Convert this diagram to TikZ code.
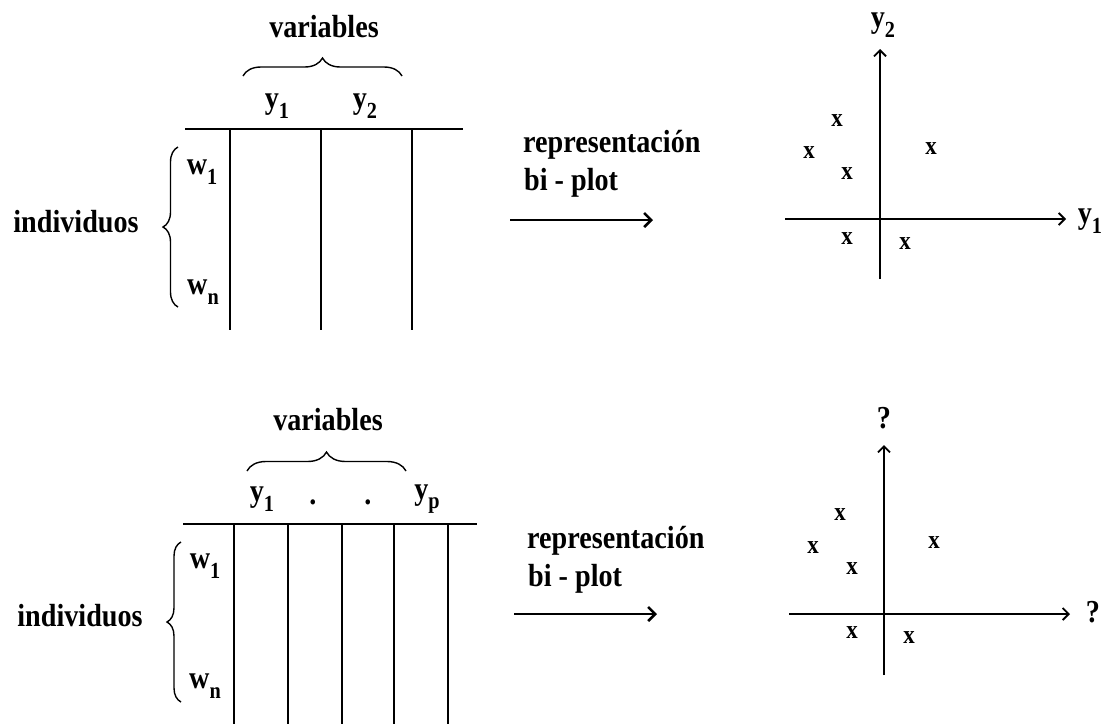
\documentclass[tikz,border=0pt]{standalone}
\usepackage{fontspec}
\setmainfont{Liberation Serif}[FakeStretch=0.88]
\usetikzlibrary{arrows.meta,decorations.pathreplacing}
\newcommand{\sbs}[1]{\raisebox{-0.3em}{\fontsize{23}{23}\selectfont #1}}
\begin{document}
\begin{tikzpicture}[x=1pt,y=-1pt,
  lbl/.style={font=\fontsize{32}{34}\selectfont\bfseries, inner sep=0pt},
  mk/.style={font=\fontsize{26}{26}\selectfont\bfseries, inner sep=0pt},
  tline/.style={line width=1.8pt},
  bracepath/.style={line width=1.4pt, decorate, decoration={brace, amplitude=#1}},
  bigarrow/.style={line width=2.6pt, -{Straight Barb[length=7pt,width=14pt]}},
  axis/.style={line width=1.8pt, -{Straight Barb[length=6pt,width=12pt]}}]
\useasboundingbox (0,0) rectangle (1109,724);

% ---------------- top diagram ----------------
\node[lbl] (var1) at (324,27) {variables};
\draw[bracepath=18] (243,76) -- (402,76);
\node[lbl] (ya1) at (277,106) {y\sbs{1}};
\node[lbl] (ya2) at (365,106) {y\sbs{2}};
\draw[tline] (185,129) -- (463,129);
\foreach \xx in {230,321,412} \draw[tline] (\xx,129) -- (\xx,330);
\draw[bracepath=15] (178,307) -- (178,147);
\node[lbl] (ind1) at (76,222) {individuos};
\node[lbl] (wa1) at (202,172) {w\sbs{1}};
\node[lbl] (wan) at (203,292) {w\sbs{n}};

\node[lbl, anchor=base west] (rep1) at (523,152) {representación};
\node[lbl, anchor=base west] (bip1) at (524,190) {bi - plot};
\coordinate (arA1) at (510,220);
\coordinate (arB1) at (653,220);
\draw[bigarrow] (arA1) -- (arB1);

\coordinate (o1) at (880,219);
\coordinate (vT1) at (880,49);
\coordinate (vB1) at (880,279);
\coordinate (hL1) at (785,219);
\coordinate (hR1) at (1066,219);
\draw[tline] (vB1) -- (o1);
\draw[axis] (o1) -- (vT1);
\draw[tline] (hL1) -- (o1);
\draw[axis] (o1) -- (hR1);
\node[lbl] (ax2) at (883,25) {y\sbs{2}};
\node[lbl] (ax1) at (1090,221) {y\sbs{1}};
\node[mk] (p11) at (837,121) {x};
\node[mk] (p12) at (809,153) {x};
\node[mk] (p13) at (847,174) {x};
\node[mk] (p14) at (931,149) {x};
\node[mk] (p15) at (847,239) {x};
\node[mk] (p16) at (905,244) {x};

% ---------------- bottom diagram ----------------
\node[lbl] (var2) at (328,420) {variables};
\draw[bracepath=19] (247,471) -- (406,471);
\node[lbl] (yb1) at (262,499) {y\sbs{1}};
\node[lbl] (dt1) at (313,502) {.};
\node[lbl] (dt2) at (368,502) {.};
\node[lbl] (ybp) at (427,499) {y\sbs{p}};
\draw[tline] (183,524) -- (477,524);
\foreach \xx in {234,288,342,394,448} \draw[tline] (\xx,524) -- (\xx,724);
\draw[bracepath=14] (181,702) -- (181,542);
\node[lbl] (ind2) at (80,616) {individuos};
\node[lbl] (wb1) at (205,566) {w\sbs{1}};
\node[lbl] (wbn) at (205,686) {w\sbs{n}};

\node[lbl, anchor=base west] (rep2) at (527,548) {representación};
\node[lbl, anchor=base west] (bip2) at (528,586) {bi - plot};
\coordinate (arA2) at (514,614);
\coordinate (arB2) at (657,614);
\draw[bigarrow] (arA2) -- (arB2);

\coordinate (o2) at (884,614);
\coordinate (vT2) at (884,445);
\coordinate (vB2) at (884,675);
\coordinate (hL2) at (789,614);
\coordinate (hR2) at (1070,614);
\draw[tline] (vB2) -- (o2);
\draw[axis] (o2) -- (vT2);
\draw[tline] (hL2) -- (o2);
\draw[axis] (o2) -- (hR2);
\node[lbl] (bq2) at (884,418) {?};
\node[lbl] (bq1) at (1093,612) {?};
\node[mk] (p21) at (840,515) {x};
\node[mk] (p22) at (813,548) {x};
\node[mk] (p23) at (852,569) {x};
\node[mk] (p24) at (934,543) {x};
\node[mk] (p25) at (852,633) {x};
\node[mk] (p26) at (909,638) {x};
\end{tikzpicture}
\end{document}
